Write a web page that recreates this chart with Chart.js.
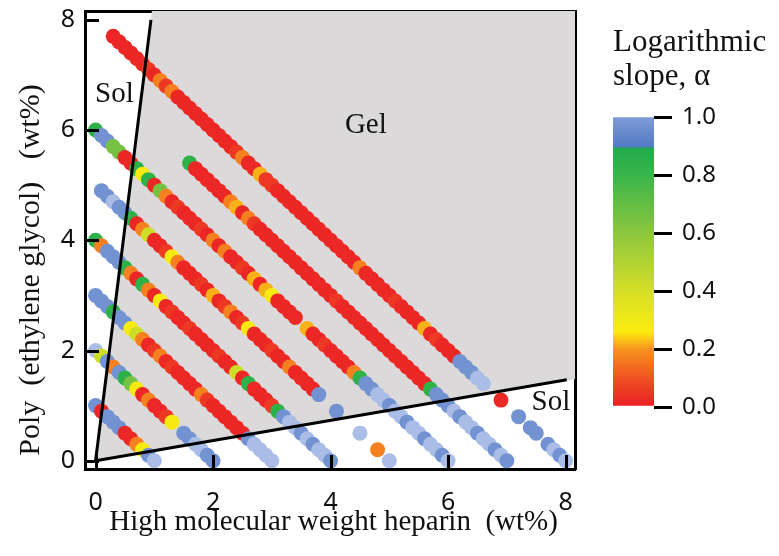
<!DOCTYPE html>
<html>
<head>
<meta charset="utf-8">
<script src="https://cdn.jsdelivr.net/npm/chart.js@4.4.0/dist/chart.umd.min.js"></script>
<style>
  body { margin: 0; background: #fff; }
  #wrap { position: relative; width: 779px; height: 556px; }
  #mainBox { position: absolute; left: 0; top: 0; width: 600px; height: 556px; }
  #barBox { position: absolute; left: 595px; top: 0; width: 184px; height: 556px; }
</style>
</head>
<body>
<div id="wrap">
  <div id="mainBox"><canvas id="phaseChart"></canvas></div>
  <div id="barBox"><canvas id="slopeBar"></canvas></div>
</div>
<script>
// Every row of dots keeps heparin + PEG constant (the total in wt%).
// Dots sit on the heparin grid firstHep, firstHep + 0.1, ...
const hepStep = 0.1;
const lineTotals = [8, 7, 6, 5, 4, 3, 2, 1];
const lineFirstHep = [0.3, 1.6, 0, 0.1, 0, 0, 0, 0];

// logarithmic slope alpha of each dot, read left to right (null = no dot)
// values above 1 are the pale blue dots
const slopeTotal8 = [0.02, 0.02, 0.02, 0.02, 0.02, 0.02, 0.05, 0.02, 0.17, 0.05,
  0.17, 0.02, 0.02, 0.02, 0.02, 0.02, 0.02, 0.02, 0.02, 0.02,
  0.02, 0.05, 0.17, 0.02, 0.02, 0.22, 0.05, 0.05, 0.02, 0.02,
  0.02, 0.02, 0.02, 0.02, 0.02, 0.02, 0.02, 0.02, 0.02, 0.02,
  0.02, 0.02, 0.17, 0.02, 0.02, 0.02, 0.02, 0.02, 0.05, 0.02,
  0.02, 0.02, 0.02, 0.22, 0.02, 0.05, 0.02, 0.02, 0.02, 0.97,
  0.97, 0.97, 1.2, 1.2, null, null, 0.02, null, null, 0.97,
  null, 0.97, 0.97, null, 0.97, 1.2, 0.97, 1.2];
const slopeTotal7 = [0.84, 0.02, 0.02, 0.02, 0.02, 0.02, 0.02, 0.17, 0.22, 0.02,
  0.17, 0.05, 0.02, 0.02, 0.02, 0.02, 0.02, 0.02, 0.02, 0.02,
  0.02, 0.02, 0.02, 0.02, 0.02, 0.05, 0.02, 0.02, 0.02, 0.02,
  0.02, 0.02, 0.02, 0.02, 0.02, 0.02, 0.02, 0.02, 0.02, 0.02,
  0.02, 0.84, 0.97, 0.97, 0.97, 1.2, 0.97, 1.2, 1.2, 0.97,
  1.2, 1.2, 0.97, 1.2, 0.97];
const slopeTotal6 = [0.84, 0.97, 0.97, 0.65, 0.65, 0.02, 0.02, 0.84, 0.28, 0.84,
  0.02, 0.65, 0.17, 0.02, 0.05, 0.02, 0.02, 0.02, 0.05, 0.02,
  0.17, 0.02, 0.17, 0.02, 0.02, 0.05, 0.02, 0.22, 0.02, 0.22,
  0.28, 0.02, 0.02, 0.02, 0.02, null, 0.22, 0.02, 0.02, 0.05,
  0.02, 0.02, 0.02, 0.02, 0.17, 0.84, 0.97, 0.97, 1.2, 1.2,
  0.97, 1.2, 1.2, 0.97, 1.2, 1.2, 0.97, 1.2, 1.2, 0.97, 1.2];
const slopeTotal5 = [0.97, 0.97, 1.2, 0.97, 0.97, 0.84, 0.02, 0.17, 0.42, 0.02,
  0.02, 0.05, 0.28, 0.17, 0.02, 0.02, 0.02, 0.05, 0.02, 0.22,
  0.02, 0.05, 0.17, 0.02, 0.05, 0.28, 0.02, 0.02, 0.02, 0.05,
  0.02, 0.02, 0.17, 0.02, 0.02, 0.02, 0.02, 0.97, null, null,
  0.97, null, null, null, 1.2, null, null, 0.17, null, 1.2];
const slopeTotal4 = [0.84, 0.17, 0.97, 0.97, 0.97, 0.84, 0.17, 0.02, 0.84, 0.17,
  0.02, 0.28, 0.02, 0.05, 0.02, 0.02, 0.05, 0.02, 0.02, 0.02,
  0.02, 0.05, 0.02, 0.02, 0.42, 0.02, 0.84, 0.02, 0.02, 0.02,
  0.05, 0.84, 0.97, 1.2, 1.2, 0.97, 1.2, 0.97, 1.2, 1.2, 0.97];
const slopeTotal3 = [0.97, 0.97, 0.97, 0.84, 0.97, 0.97, 0.28, 0.42, 0.17, 0.02,
  0.05, 0.17, 0.02, 0.05, 0.02, 0.02, 0.02, 0.02, 0.17, 0.05,
  0.02, 0.02, 0.02, 0.02, 0.02, 0.02, 0.97, 1.2, 1.2, 1.2, 1.2];
const slopeTotal2 = [1.2, 0.42, 0.97, 0.17, 0.97, 0.84, 0.65, 0.28, 0.02, 0.17,
  0.02, 0.02, 0.05, 0.28, null, 0.97, 0.97, 1.2, 1.2, 0.97, 0.97];
const slopeTotal1 = [0.97, 0.02, 0.97, 0.97, 0.97, 0.02, 0.02, 0.17, 0.28, 0.97, 1.2];
const slopeRows = [slopeTotal8, slopeTotal7, slopeTotal6, slopeTotal5,
  slopeTotal4, slopeTotal3, slopeTotal2, slopeTotal1];

// sol / gel boundaries (heparin wt%, PEG wt%)
const leftBoundHep = [0, 0.943];
const leftBoundPeg = [0, 8.0];
const lowerBoundHep = [0, 8.02];
const lowerBoundPeg = [0, 1.47];
const gelHep = [0, 0.975, 8.4, 8.4];
const gelPeg = [0, 8.3, 8.3, 1.52];

const regionNames = ['Sol', 'Gel', 'Sol'];
const regionHep = [0.32, 4.6, 7.75];
const regionPeg = [6.64, 6.09, 1.05];

const hepTicks = [0, 2, 4, 6, 8];
const pegTicks = [0, 2, 4, 6, 8];
const slopeTicks = [0, 0.2, 0.4, 0.6, 0.8, 1.0];

// colour scale
const slopeStops = [0, 0.1, 0.2, 0.26, 0.4, 0.6, 0.8, 0.895, 0.896, 1.0];
const slopeColors = ['#ea1d25', '#f05223', '#f7941d', '#fbec0f', '#d5df26',
  '#8cc63f', '#3ab54a', '#1fab4b', '#5279c4', '#7f9cd6'];
const paleBlue = '#a9bde6';

const serif = "'Liberation Serif', 'DejaVu Serif', serif";
const sans = "'Noto Sans', 'DejaVu Sans', sans-serif";

function hexToRgb(h) {
  return [parseInt(h.slice(1, 3), 16), parseInt(h.slice(3, 5), 16), parseInt(h.slice(5, 7), 16)];
}

function slopeColor(a) {
  if (a > 1) return paleBlue;
  for (let i = 1; i < slopeStops.length; i++) {
    if (a <= slopeStops[i]) {
      const t = (a - slopeStops[i - 1]) / (slopeStops[i] - slopeStops[i - 1]);
      const c0 = hexToRgb(slopeColors[i - 1]);
      const c1 = hexToRgb(slopeColors[i]);
      const c = c0.map((v, k) => Math.round(v + (c1[k] - v) * t));
      return 'rgb(' + c.join(',') + ')';
    }
  }
  return slopeColors[slopeColors.length - 1];
}

function toPoints(xs, ys) {
  return xs.map((x, i) => ({ x: x, y: ys[i] }));
}

// one scatter dataset per row of constant total
const rowDatasets = slopeRows.map((row, r) => {
  const pts = [];
  const cols = [];
  row.forEach((a, i) => {
    if (a === null) return;
    const hep = +(lineFirstHep[r] + i * hepStep).toFixed(2);
    pts.push({ x: hep, y: lineTotals[r] - hep });
    cols.push(slopeColor(a));
  });
  return {
    type: 'scatter',
    data: pts,
    backgroundColor: cols,
    borderWidth: 0,
    pointRadius: 7.5,
    order: 2
  };
});

// tick marks pointing into the frame, plus the Sol / Gel words
const frameExtras = {
  id: 'frameExtras',
  afterDatasetsDraw(chart) {
    const { ctx, chartArea: a, scales } = chart;
    ctx.save();
    ctx.strokeStyle = '#000';
    ctx.lineWidth = 3;
    ctx.beginPath();
    scales.x.ticks.forEach(t => {
      const px = Math.round(scales.x.getPixelForValue(t.value)) + 0.5;
      ctx.moveTo(px, a.bottom);
      ctx.lineTo(px, a.bottom - 14);
    });
    scales.y.ticks.forEach(t => {
      const py = Math.round(scales.y.getPixelForValue(t.value)) + 0.5;
      ctx.moveTo(a.left, py);
      ctx.lineTo(a.left + 14, py);
    });
    ctx.stroke();

    ctx.fillStyle = '#111';
    ctx.font = '29px ' + serif;
    ctx.textAlign = 'center';
    ctx.textBaseline = 'middle';
    regionNames.forEach((name, i) => {
      ctx.fillText(name, scales.x.getPixelForValue(regionHep[i]), scales.y.getPixelForValue(regionPeg[i]));
    });
    ctx.restore();
  }
};

function fixSize(prop, size) {
  return s => {
    s[prop] = size;
    s.paddingTop = 0; s.paddingBottom = 0; s.paddingLeft = 0; s.paddingRight = 0;
  };
}

const hiddenAxis = {
  type: 'linear',
  ticks: { display: false },
  grid: { display: false, drawTicks: false },
  border: { display: true, color: '#000', width: 3 }
};

new Chart(document.getElementById('phaseChart'), {
  type: 'scatter',
  data: {
    datasets: [
      {
        type: 'line',
        data: toPoints(gelHep, gelPeg),
        fill: 'shape',
        backgroundColor: '#dbd9da',
        borderWidth: 0,
        pointRadius: 0,
        order: 3
      },
      ...rowDatasets,
      {
        type: 'line',
        data: toPoints(leftBoundHep, leftBoundPeg),
        borderColor: '#000',
        borderWidth: 3,
        pointRadius: 0,
        fill: false,
        order: 1
      },
      {
        type: 'line',
        data: toPoints(lowerBoundHep, lowerBoundPeg),
        borderColor: '#000',
        borderWidth: 3,
        pointRadius: 0,
        fill: false,
        order: 1
      }
    ]
  },
  options: {
    responsive: true,
    maintainAspectRatio: false,
    animation: false,
    events: [],
    layout: { padding: 0 },
    plugins: { legend: { display: false }, tooltip: { enabled: false } },
    scales: {
      x: {
        type: 'linear',
        position: 'bottom',
        min: -0.18,
        max: 8.16,
        afterBuildTicks: s => { s.ticks = hepTicks.map(v => ({ value: v })); },
        afterFit: fixSize('height', 87),
        grid: { display: false, drawTicks: false },
        border: { display: true, color: '#000', width: 3 },
        ticks: { font: { family: sans, size: 25 }, color: '#111', padding: 19, maxRotation: 0, autoSkip: false },
        title: {
          display: true,
          text: ' High molecular weight heparin  (wt%)',
          font: { family: serif, size: 29 },
          color: '#111',
          padding: { top: 0, bottom: 16 }
        }
      },
      y: {
        type: 'linear',
        position: 'left',
        min: -0.15,
        max: 8.16,
        afterBuildTicks: s => { s.ticks = pegTicks.map(v => ({ value: v })); },
        afterFit: fixSize('width', 85),
        grid: { display: false, drawTicks: false },
        border: { display: true, color: '#000', width: 3 },
        ticks: { font: { family: sans, size: 25 }, color: '#111', padding: 10, autoSkip: false },
        title: {
          display: true,
          text: 'Poly  (ethylene glycol)   (wt%)        ',
          font: { family: serif, size: 30 },
          color: '#111',
          padding: { top: 13, bottom: 0 }
        }
      },
      x2: Object.assign({ position: 'top', afterFit: fixSize('height', 11) }, hiddenAxis),
      y2: Object.assign({ position: 'right', afterFit: fixSize('width', 25) }, hiddenAxis)
    }
  },
  plugins: [frameExtras]
});

// colour bar: one floating bar from 0 to 1 filled with the same colour scale
function barGradient(chart) {
  const area = chart.chartArea;
  if (!area) return slopeColors[0];
  const g = chart.ctx.createLinearGradient(0, area.bottom, 0, area.top);
  slopeStops.forEach((s, i) => g.addColorStop(s, slopeColors[i]));
  return g;
}

new Chart(document.getElementById('slopeBar'), {
  type: 'bar',
  data: {
    labels: ['alpha'],
    datasets: [{
      data: [[0, 1]],
      backgroundColor: ctx => barGradient(ctx.chart),
      borderWidth: 0,
      barPercentage: 1,
      categoryPercentage: 1
    }]
  },
  options: {
    responsive: true,
    maintainAspectRatio: false,
    animation: false,
    events: [],
    layout: { padding: { left: 18, top: 0, right: 0, bottom: 149 } },
    plugins: {
      legend: { display: false },
      tooltip: { enabled: false },
      title: {
        display: true,
        text: ['Logarithmic', 'slope, α'],
        align: 'start',
        color: '#111',
        font: { family: serif, size: 31, lineHeight: 1.1, weight: 'normal' },
        padding: { top: 26, bottom: 23 }
      }
    },
    scales: {
      x: { display: false },
      y: {
        position: 'right',
        min: 0,
        max: 1,
        afterBuildTicks: s => { s.ticks = slopeTicks.map(v => ({ value: v })); },
        afterFit: fixSize('width', 125),
        grid: { drawOnChartArea: false, drawTicks: true, tickLength: 18, color: '#000', lineWidth: 3 },
        border: { display: false },
        ticks: {
          font: { family: sans, size: 24 },
          color: '#111',
          padding: 10,
          callback: v => v.toFixed(1)
        }
      }
    }
  }
});
</script>
</body>
</html>
